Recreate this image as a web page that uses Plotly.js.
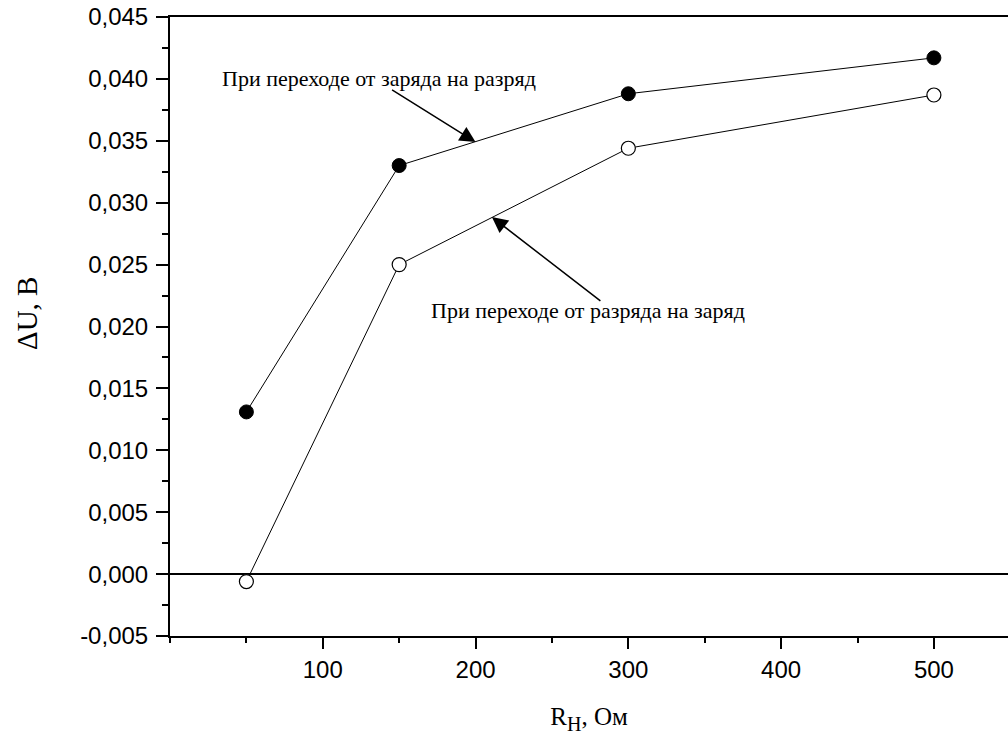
<!DOCTYPE html>
<html><head><meta charset="utf-8">
<script src="https://cdn.plot.ly/plotly-3.0.1.min.js"></script>
<style>html,body{margin:0;padding:0;overflow:hidden;background:#fff}</style>
</head><body><div id="chart" style="width:1008px;height:740px"></div>
<script>
// Data
const resistance = [50, 150, 300, 500];
const chargeToDischarge = [0.0131, 0.0330, 0.0388, 0.0417];   // filled circles
const dischargeToCharge = [-0.0006, 0.0250, 0.0344, 0.0387];  // open circles
const xTickVals = [100, 200, 300, 400, 500];
const yTickVals = [-0.005, 0, 0.005, 0.010, 0.015, 0.020, 0.025, 0.030, 0.035, 0.040, 0.045];
const yTickText = ['-0,005', '0,000', '0,005', '0,010', '0,015', '0,020', '0,025', '0,030', '0,035', '0,040', '0,045'];
const labelChargeToDischarge = 'При переходе от заряда на разряд';
const labelDischargeToCharge = 'При переходе от разряда на заряд';
const xTitle = 'R<sub><span style="font-size:20px">Н</span></sub>, Ом';
const yTitle = 'ΔU, В';

const traces = [
  {
    x: resistance, y: chargeToDischarge, type: 'scatter', mode: 'lines+markers',
    line: {color: '#000', width: 1},
    marker: {symbol: 'circle', size: 14, color: '#000', line: {color: '#000', width: 1}},
    showlegend: false, hoverinfo: 'x+y'
  },
  {
    x: resistance, y: dischargeToCharge, type: 'scatter', mode: 'lines+markers',
    line: {color: '#000', width: 1},
    marker: {symbol: 'circle', size: 14, color: '#fff', line: {color: '#000', width: 1.2}},
    showlegend: false, hoverinfo: 'x+y'
  }
];

const tickFont = {family: '"Liberation Sans", Arial, sans-serif', size: 24, color: '#000'};
const serif = '"Liberation Serif", "Times New Roman", serif';

const L = 170, T = 17, W = 1008 - 170, H = 740 - 17 - 104;
const px2x = px => (px - L) / W;
const py2y = py => 1 - (py - T) / H;

const layout = {
  width: 1008, height: 740,
  margin: {l: L, r: 0, t: T, b: 104, pad: 0},
  paper_bgcolor: '#fff', plot_bgcolor: '#fff',
  showlegend: false,
  xaxis: {
    range: [0, 548.5], showgrid: false, zeroline: false,
    showline: true, linecolor: '#000', linewidth: 2, mirror: true,
    ticks: 'outside', ticklen: 11, tickwidth: 2, tickcolor: '#000',
    tickvals: xTickVals, tickfont: tickFont,
    minor: {dtick: 50, tick0: 0, ticks: 'outside', ticklen: 5, tickwidth: 2, tickcolor: '#000', showgrid: false},
    title: {text: xTitle, font: {family: serif, size: 25, color: '#000'}, standoff: 26}
  },
  yaxis: {
    range: [-0.005, 0.045], showgrid: false,
    zeroline: true, zerolinecolor: '#000', zerolinewidth: 2,
    showline: true, linecolor: '#000', linewidth: 2, mirror: false,
    ticks: 'outside', ticklen: 12, tickwidth: 2, tickcolor: '#000',
    tickvals: yTickVals, ticktext: yTickText, tickfont: tickFont, ticklabelstandoff: 3,
    minor: {dtick: 0.0025, tick0: 0, ticks: 'outside', ticklen: 6, tickwidth: 2, tickcolor: '#000', showgrid: false}
  },
  annotations: [
    {
      x: 200, y: 0.0349, xref: 'x', yref: 'y', text: '', showarrow: true,
      ax: -85, ay: -53, arrowhead: 2, arrowsize: 2.1, arrowwidth: 1.5, arrowcolor: '#000', standoff: 0
    },
    {
      x: 210.7, y: 0.02884, xref: 'x', yref: 'y', text: '', showarrow: true,
      ax: 110, ay: 85, arrowhead: 2, arrowsize: 2.1, arrowwidth: 1.5, arrowcolor: '#000', standoff: 0
    },
    {
      x: px2x(379), y: py2y(78), xref: 'paper', yref: 'paper', yanchor: 'middle', xanchor: 'center',
      text: labelChargeToDischarge, showarrow: false,
      font: {family: serif, size: 22, color: '#000'}
    },
    {
      x: px2x(588), y: py2y(310), xref: 'paper', yref: 'paper', yanchor: 'middle', xanchor: 'center',
      text: labelDischargeToCharge, showarrow: false,
      font: {family: serif, size: 22, color: '#000'}
    },
    {
      x: px2x(27), y: py2y(314), xref: 'paper', yref: 'paper', yanchor: 'middle', xanchor: 'center',
      text: yTitle, textangle: -90, showarrow: false,
      font: {family: serif, size: 29, color: '#000'}
    }
  ]
};

Plotly.newPlot('chart', traces, layout, {displayModeBar: false, staticPlot: true});
</script>
</body></html>
